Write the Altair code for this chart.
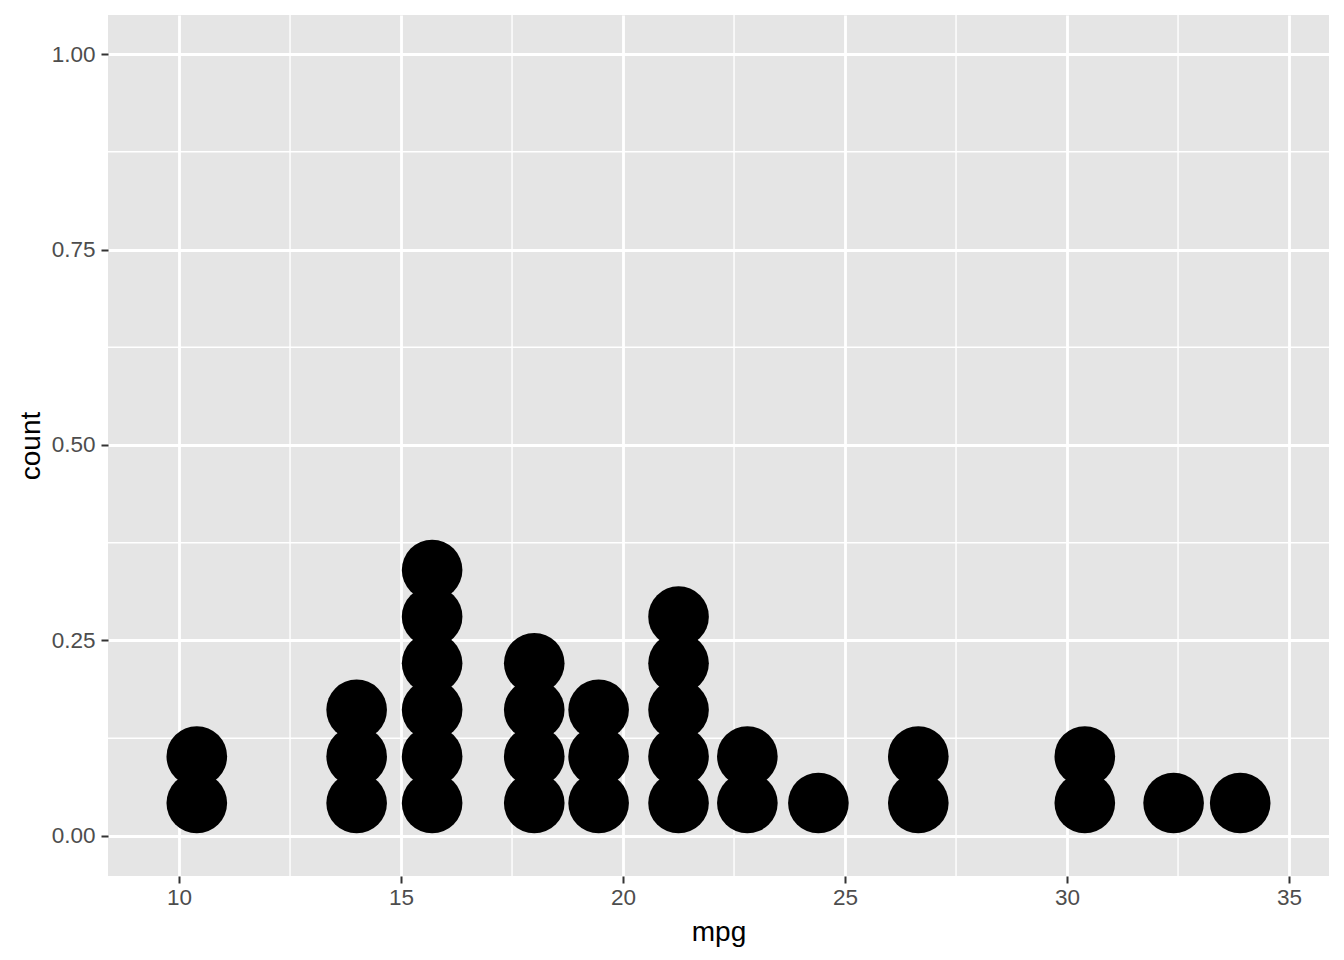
import altair as alt
import pandas as pd

# Dot-density bins (centre of each bin, number of cars in it)
bin_centers = [10.4, 14.0, 15.7, 18.0, 19.45, 21.25, 22.8, 24.4, 26.65, 30.4, 32.4, 33.9]
bin_counts = [2, 3, 6, 4, 3, 5, 2, 1, 2, 2, 1, 1]

x_major = [10, 15, 20, 25, 30, 35]
x_minor = [12.5, 17.5, 22.5, 27.5, 32.5]
y_major = [0.0, 0.25, 0.5, 0.75, 1.0]
y_minor = [0.125, 0.375, 0.625, 0.875]

rows = []
for c, n in zip(bin_centers, bin_counts):
    for k in range(n):
        rows.append({"mpg": c, "stack": k})
dots = pd.DataFrame(rows)

STACK0 = 0.0421
STEP = 0.0596
X_DOM = [8.40, 35.90]
Y_DOM = [-0.0512, 1.0499]

xs = alt.Scale(domain=X_DOM, nice=False, zero=False)
ys = alt.Scale(domain=Y_DOM, nice=False, zero=False)

FONT = "Liberation Sans"

x_axis = alt.Axis(
    values=x_major,
    title="mpg",
    grid=True,
    gridColor="white",
    gridWidth=2.8,
    domain=False,
    tickColor="#333333",
    tickSize=7,
    tickWidth=2,
    labelFont=FONT,
    labelFontSize=22.5,
    labelColor="#4D4D4D",
    labelPadding=3,
    titleFont=FONT,
    titleFontSize=28,
    titleFontWeight="normal",
    titleColor="black",
    titleY=64,
    titleBaseline="alphabetic",
)

y_axis = alt.Axis(
    values=y_major,
    format=".2f",
    title="count",
    grid=True,
    gridColor="white",
    gridWidth=2.8,
    domain=False,
    tickColor="#333333",
    tickSize=7,
    tickWidth=2,
    labelFont=FONT,
    labelFontSize=22.5,
    labelColor="#4D4D4D",
    labelPadding=6,
    titleFont=FONT,
    titleFontSize=28,
    titleFontWeight="normal",
    titleColor="black",
    titleX=-69,
    titleBaseline="alphabetic",
)

minor_x = alt.Chart(pd.DataFrame({"mpg": x_minor})).mark_rule(
    color="white", strokeWidth=1.4
).encode(x=alt.X("mpg:Q", scale=xs, axis=x_axis, title="mpg"))

minor_y = alt.Chart(pd.DataFrame({"ypos": y_minor})).mark_rule(
    color="white", strokeWidth=1.4
).encode(y=alt.Y("ypos:Q", scale=ys, axis=y_axis, title="count"))

points = alt.Chart(dots).transform_calculate(
    ypos=f"{STACK0} + datum.stack * {STEP}"
).mark_circle(size=3675, color="black", opacity=1, strokeWidth=0).encode(
    x=alt.X("mpg:Q", scale=xs, axis=x_axis, title="mpg"),
    y=alt.Y("ypos:Q", scale=ys, axis=y_axis, title="count"),
)

chart = alt.layer(minor_x, minor_y, points).properties(
    width=1221,
    height=861,
    autosize=alt.AutoSizeParams(type="none"),
    padding={"left": 100, "top": 7, "right": 7, "bottom": 76},
).configure_view(fill="#E5E5E5", strokeWidth=0)

chart.save("out.html", embed_options={"renderer": "svg", "actions": False})
